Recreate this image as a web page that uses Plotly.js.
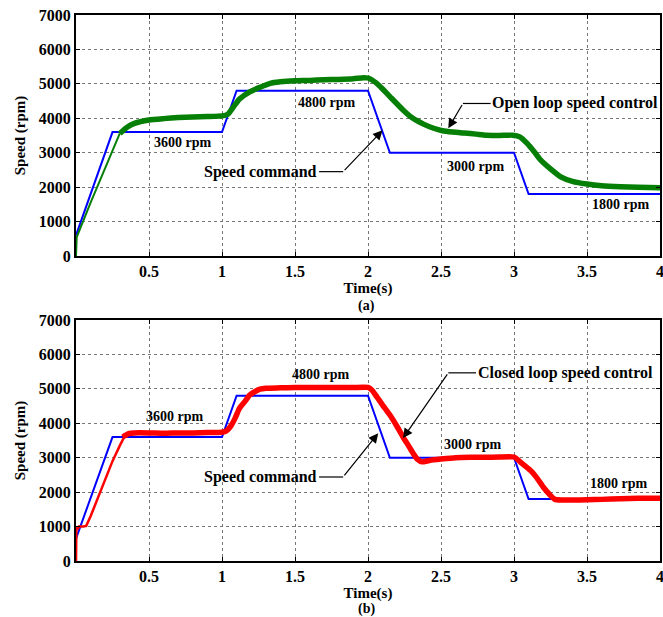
<!DOCTYPE html>
<html>
<head>
<meta charset="utf-8">
<script src="https://cdn.plot.ly/plotly-3.0.1.min.js"></script>
<style>html,body{margin:0;padding:0;background:#fff;}#chart{width:663px;height:617px;}</style>
</head>
<body>
<div id="chart"></div>
<script>
// ---- data ----
var tCmd = [0, 0.25, 1.0, 1.1, 2.0, 2.15, 3.0, 3.1, 4.0];
var cmdA = [600, 3600, 3600, 4800, 4800, 3000, 3000, 1800, 1800];
var cmdB = [650, 3600, 3600, 4800, 4800, 3000, 3000, 1800, 1800];

// open loop (a): thin start-up ramp, then the noisy (thick) response
var tOpenRamp = [0, 0.005, 0.1, 0.2, 0.3];
var openRamp = [0, 550, 1550, 2550, 3560];
var tOpen = [0.3, 0.35, 0.4, 0.5, 0.6, 0.7, 0.8, 0.9, 1.0, 1.04, 1.08, 1.12, 1.19, 1.26, 1.33, 1.4, 1.5, 1.6, 1.7, 1.8, 1.9, 1.97, 2.0, 2.06, 2.1, 2.15, 2.24, 2.3, 2.38, 2.45, 2.51, 2.58, 2.66, 2.74, 2.81, 2.9, 2.99, 3.04, 3.09, 3.14, 3.18, 3.25, 3.32, 3.4, 3.5, 3.6, 3.73, 3.85, 4.0];
var openSpd = [3560, 3740, 3850, 3950, 3990, 4020, 4040, 4050, 4070, 4120, 4340, 4560, 4770, 4900, 5015, 5060, 5090, 5100, 5120, 5130, 5150, 5180, 5170, 5015, 4850, 4630, 4240, 4020, 3830, 3710, 3640, 3600, 3570, 3540, 3510, 3500, 3510, 3460, 3270, 3020, 2800, 2530, 2300, 2170, 2090, 2040, 2010, 1995, 1985];

// closed loop (b)
var tClosedRamp = [0, 0.003, 0.01, 0.02, 0.05, 0.07, 0.1, 0.15, 0.2, 0.25, 0.3, 0.33];
var closedRamp = [0, 1000, 920, 1000, 1000, 1020, 1300, 1850, 2400, 2900, 3350, 3600];
var tClosed = [0.32, 0.36, 0.4, 0.5, 0.6, 0.7, 0.8, 0.9, 1.0, 1.03, 1.06, 1.09, 1.12, 1.16, 1.19, 1.23, 1.26, 1.3, 1.4, 1.5, 1.6, 1.7, 1.8, 1.9, 2.0, 2.03, 2.06, 2.1, 2.15, 2.2, 2.24, 2.28, 2.31, 2.34, 2.37, 2.42, 2.5, 2.6, 2.7, 2.8, 2.9, 3.0, 3.05, 3.11, 3.15, 3.2, 3.24, 3.28, 3.33, 3.4, 3.5, 3.6, 3.73, 3.85, 4.0];
var closedSpd = [3600, 3700, 3720, 3720, 3710, 3720, 3720, 3730, 3740, 3780, 3920, 4150, 4440, 4650, 4820, 4930, 4990, 5020, 5030, 5040, 5040, 5040, 5040, 5040, 5040, 4950, 4770, 4530, 4240, 3900, 3600, 3330, 3120, 2950, 2880, 2920, 2960, 3000, 3010, 3010, 3020, 3020, 2850, 2640, 2450, 2150, 1950, 1790, 1770, 1770, 1780, 1790, 1810, 1820, 1820];

var xTicks = [0.5, 1, 1.5, 2, 2.5, 3, 3.5, 4];
var xTickText = ['0.5', '1', '1.5', '2', '2.5', '3', '3.5', '4'];
var yTicks = [0, 1000, 2000, 3000, 4000, 5000, 6000, 7000];
var yTickText = ['0', '1000', '2000', '3000', '4000', '5000', '6000', '7000'];

// ---- styling ----
var FONT = '"Liberation Serif", "Times New Roman", serif';
var BLUE = '#0000ff', GREEN = '#067f06', RED = '#ff0000';

var traces = [
  {x: tCmd, y: cmdA, xaxis: 'x', yaxis: 'y', mode: 'lines', line: {color: BLUE, width: 2}, name: 'Speed command'},
  {x: tOpenRamp, y: openRamp, xaxis: 'x', yaxis: 'y', mode: 'lines', line: {color: GREEN, width: 2}, name: 'Open loop'},
  {x: tOpen, y: openSpd, xaxis: 'x', yaxis: 'y', mode: 'lines', line: {color: GREEN, width: 5.5, shape: 'spline', smoothing: 0.5}, name: 'Open loop speed control'},
  {x: tCmd, y: cmdB, xaxis: 'x2', yaxis: 'y2', mode: 'lines', line: {color: BLUE, width: 2}, name: 'Speed command'},
  {x: tClosedRamp, y: closedRamp, xaxis: 'x2', yaxis: 'y2', mode: 'lines', line: {color: RED, width: 2.5}, name: 'Closed loop'},
  {x: tClosed, y: closedSpd, xaxis: 'x2', yaxis: 'y2', mode: 'lines', line: {color: RED, width: 5.5, shape: 'spline', smoothing: 0.5}, name: 'Closed loop speed control'}
];

function xax(anchor) {
  return {
    anchor: anchor, range: [0, 4], tickvals: xTicks, ticktext: xTickText,
    showgrid: true, gridcolor: '#777', griddash: 'dot', gridwidth: 1,
    showline: true, linecolor: '#000', linewidth: 2, mirror: 'ticks',
    ticks: 'inside', ticklen: 4, tickcolor: '#000', zeroline: false,
    ticklabeloverflow: 'allow',
    tickfont: {family: FONT, size: 16, color: '#000', weight: 'bold'},
    title: {text: 'Time(s)', standoff: 2, font: {family: FONT, size: 15, color: '#000', weight: 'bold'}}
  };
}
function yax(anchor, domain) {
  return {
    anchor: anchor, domain: domain, range: [0, 7000], tickvals: yTicks, ticktext: yTickText,
    showgrid: true, gridcolor: '#777', griddash: 'dot', gridwidth: 1,
    showline: true, linecolor: '#000', linewidth: 2, mirror: 'ticks',
    ticks: 'inside', ticklen: 4, tickcolor: '#000', zeroline: false,
    tickfont: {family: FONT, size: 16, color: '#000', weight: 'bold'},
    title: {text: 'Speed (rpm)', standoff: 10, font: {family: FONT, size: 15, color: '#000', weight: 'bold'}}
  };
}

var lblFont = {family: FONT, size: 14, color: '#000', weight: 'bold'};
var bigFont = {family: FONT, size: 16, color: '#000', weight: 'bold'};

function txt(xr, yr, x, y, text, font, xanchor) {
  return {xref: xr, yref: yr, x: x, y: y, text: text, showarrow: false, font: font, xanchor: xanchor || 'center', yanchor: 'middle'};
}
function arr(xr, yr, x, y, ax, ay) {
  return {xref: xr, yref: yr, x: x, y: y, axref: xr, ayref: yr, ax: ax, ay: ay, text: '', showarrow: true,
          arrowhead: 2, arrowsize: 1.6, arrowwidth: 1.2, arrowcolor: '#000'};
}

var annotations = [
  txt('x', 'y', 0.73, 3310, '3600 rpm', lblFont),
  txt('x', 'y', 1.72, 4470, '4800 rpm', lblFont),
  txt('x', 'y', 2.74, 2610, '3000 rpm', lblFont),
  txt('x', 'y', 3.73, 1510, '1800 rpm', lblFont),
  txt('x', 'y', 1.665, 2450, 'Speed command', bigFont, 'right'),
  arr('x', 'y', 2.1, 3650, 1.83, 2450),
  txt('x', 'y', 4.0, 4430, 'Open loop speed control', bigFont, 'right'),
  arr('x', 'y', 2.55, 3710, 2.65, 4430),

  txt('x2', 'y2', 0.68, 4200, '3600 rpm', lblFont),
  txt('x2', 'y2', 1.675, 5430, '4800 rpm', lblFont),
  txt('x2', 'y2', 2.72, 3390, '3000 rpm', lblFont),
  txt('x2', 'y2', 3.72, 2250, '1800 rpm', lblFont),
  txt('x2', 'y2', 1.665, 2440, 'Speed command', bigFont, 'right'),
  arr('x2', 'y2', 2.07, 3710, 1.83, 2440),
  txt('x2', 'y2', 3.965, 5465, 'Closed loop speed control', bigFont, 'right'),
  arr('x2', 'y2', 2.24, 3570, 2.55, 5465),

  txt('paper', 'paper', 0.498, 0.467, '(a)', lblFont),
  txt('paper', 'paper', 0.498, -0.087, '(b)', lblFont)
];

var shapes = [
  {type: 'line', xref: 'x', yref: 'y', x0: 1.665, y0: 2450, x1: 1.83, y1: 2450, line: {color: '#000', width: 1.2}},
  {type: 'line', xref: 'x', yref: 'y', x0: 2.65, y0: 4430, x1: 2.84, y1: 4430, line: {color: '#000', width: 1.2}},
  {type: 'line', xref: 'x2', yref: 'y2', x0: 1.665, y0: 2440, x1: 1.83, y1: 2440, line: {color: '#000', width: 1.2}},
  {type: 'line', xref: 'x2', yref: 'y2', x0: 2.55, y0: 5465, x1: 2.74, y1: 5465, line: {color: '#000', width: 1.2}}
];

var layout = {
  width: 663, height: 617,
  margin: {l: 76, r: 3, t: 15, b: 56},
  paper_bgcolor: '#fff', plot_bgcolor: '#fff',
  showlegend: false,
  xaxis: xax('y'),
  yaxis: yax('x', [0.5586, 1]),
  xaxis2: xax('y2'),
  yaxis2: yax('x2', [0, 0.4414]),
  annotations: annotations,
  shapes: shapes
};

Plotly.newPlot('chart', traces, layout, {staticPlot: true, displayModeBar: false});
</script>
</body>
</html>
